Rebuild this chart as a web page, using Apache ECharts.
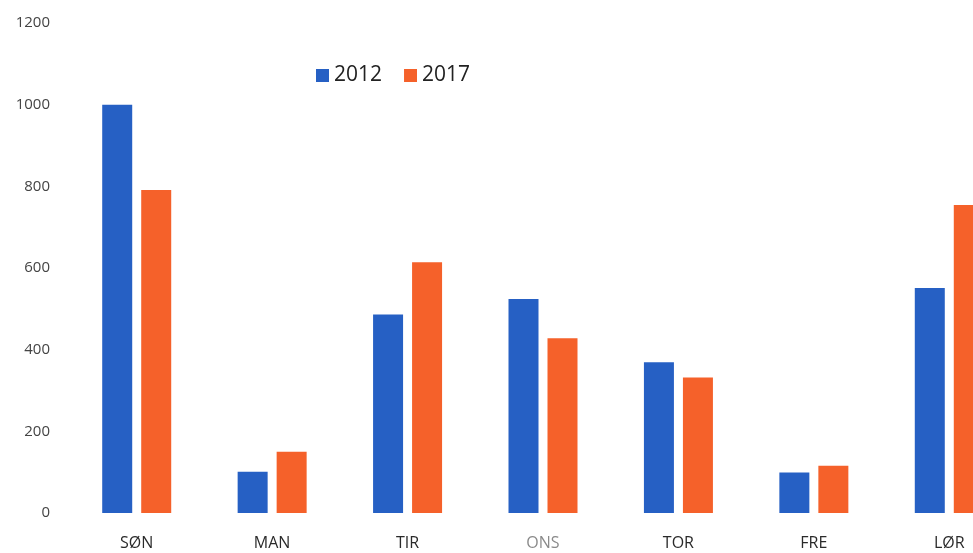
<!DOCTYPE html>
<html><head><meta charset="utf-8">
<script src="https://cdn.jsdelivr.net/npm/echarts@6/dist/echarts.min.js"></script>
<style>html,body{margin:0;padding:0;background:#fff;overflow:hidden;width:973px;height:553px}#c{width:1017px;height:553px}</style>
</head><body><div id="c"></div>
<script>
const categories = ['SØN','MAN','TIR','ONS','TOR','FRE','LØR'];
const values2012 = [1000, 101, 486, 524, 369, 99, 551];
const values2017 = [791, 150, 614, 428, 332, 116, 754];
const yTicks = [0, 200, 400, 600, 800, 1000, 1200];

const chart = echarts.init(document.getElementById('c'));
chart.setOption({
  animation: false,
  backgroundColor: '#fff',
  grid: { left: 69, top: 23, bottom: 40, right: 0, containLabel: false },
  legend: {
    left: 311, top: 60, itemWidth: 13, itemHeight: 13, itemGap: 22,
    icon: 'rect',
    textStyle: { fontFamily: 'Open Sans', fontSize: 21, color: '#222' },
    data: ['2012', '2017']
  },
  xAxis: {
    type: 'category',
    data: categories.map(c => c === 'ONS' ? { value: c, textStyle: { color: '#8a8a8a' } } : c),
    axisLine: { show: false }, axisTick: { show: false },
    axisLabel: { fontFamily: 'Open Sans', fontSize: 16, color: '#2a2a2a', margin: 22, interval: 0 }
  },
  yAxis: {
    type: 'value', min: yTicks[0], max: yTicks[yTicks.length - 1], interval: 200,
    splitLine: { show: false }, axisLine: { show: false }, axisTick: { show: false },
    axisLabel: { fontFamily: 'Open Sans', fontSize: 15, color: '#444', margin: 19, formatter: v => String(v) }
  },
  series: [
    { name: '2012', type: 'bar', data: values2012, barWidth: 30, barGap: '30%', itemStyle: { color: '#2660c4' } },
    { name: '2017', type: 'bar', data: values2017, barWidth: 30, itemStyle: { color: '#f5612a' } }
  ]
});
</script></body></html>
